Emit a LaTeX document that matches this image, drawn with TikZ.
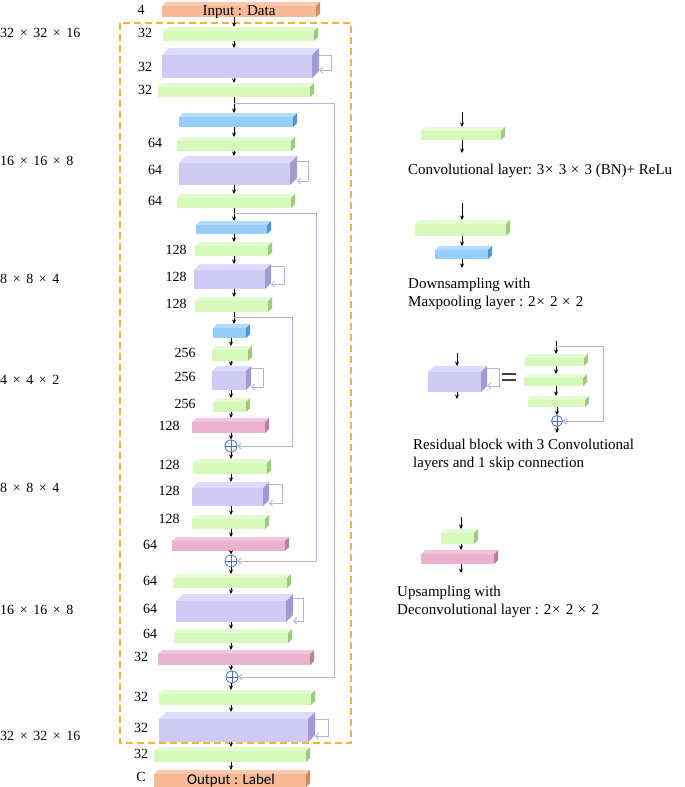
\documentclass[tikz,border=0pt]{standalone}
\usepackage{fontspec}
\setmainfont{Liberation Serif}
\newfontfamily\calib{Carlito}
\usetikzlibrary{arrows.meta}
\definecolor{gr}{RGB}{214,248,187}\definecolor{grT}{RGB}{228,252,210}\definecolor{grS}{RGB}{160,200,128}
\definecolor{pu}{RGB}{208,203,245}\definecolor{puT}{RGB}{222,218,251}\definecolor{puS}{RGB}{160,155,212}
\definecolor{bl}{RGB}{150,205,250}\definecolor{blT}{RGB}{178,220,252}\definecolor{blS}{RGB}{80,150,210}
\definecolor{pk}{RGB}{234,178,206}\definecolor{pkT}{RGB}{242,198,220}\definecolor{pkS}{RGB}{185,130,155}
\definecolor{or}{RGB}{248,186,150}\definecolor{orT}{RGB}{251,202,172}\definecolor{orS}{RGB}{205,140,100}
\definecolor{skipc}{RGB}{180,175,240}
\definecolor{dashc}{RGB}{245,182,55}
\definecolor{plusc}{RGB}{70,110,200}
\newcommand\mkbox[7]{%
  \fill[#6T] ({#2},{#3+#7}) -- ({#2+#7},{#3}) -- ({#4},{#3}) -- ({#4-#7},{#3+#7}) -- cycle;
  \fill[#6S] ({#4-#7},{#3+#7}) -- ({#4},{#3}) -- ({#4},{#5-#7}) -- ({#4-#7},{#5}) -- cycle;
  \fill[#6] ({#2},{#3+#7}) rectangle ({#4-#7},{#5});
  \node[inner sep=0pt,outer sep=0pt,minimum width={(#4-#2)*1pt},minimum height={(#5-#3)*1pt}] (#1) at ({(#2+#4)/2},{(#3+#5)/2}) {};}
\newcommand\lp[4]{\draw[skipline] ([yshift=-#3pt]#1.north east) -- ++(#2,0) |- ([yshift=#4pt]#1.south east);}
\tikzset{
  arr/.style={draw=black,line width=0.8pt,-{Stealth[length=4.5pt,width=4pt]}},
  skipline/.style={draw=skipc,line width=1pt,-{Straight Barb[length=3pt,width=6pt]}},
  oplus/.style={circle,draw=plusc,line width=0.8pt,minimum size=12pt,inner sep=0pt,
    path picture={\draw[plusc,line width=0.8pt] (path picture bounding box.north) -- (path picture bounding box.south)
      (path picture bounding box.west) -- (path picture bounding box.east);}},
  lbl/.style={font=\fontsize{14}{16}\selectfont,inner sep=0pt},
  legtxt/.style={font=\fontsize{15}{17.5}\selectfont,inner sep=0pt,anchor=west,align=left},
  frame/.style={draw=dashc,line width=1.3pt,dash pattern=on 7pt off 4pt}
}
\newcommand\X{\hspace{0.4em}×\hspace{0.4em}}
\newcommand\Y{\hspace{0.05em}×\hspace{0.35em}}
\begin{document}
\begin{tikzpicture}[x=1pt,y=-1pt]
\useasboundingbox (0,0) rectangle (685,787);
\draw[frame] (120,23) rectangle (351,743);
% main column
\mkbox{inp}{162}{2}{320}{17}{or}{4}
\mkbox{g1}{163}{27}{318}{41}{gr}{4}
\mkbox{p1}{162}{48}{319}{78}{pu}{7}
\mkbox{g2}{158}{83}{314}{97}{gr}{4}
\mkbox{b1}{179}{113}{297}{127}{bl}{4}
\mkbox{g3}{177}{137}{295}{151}{gr}{4}
\mkbox{p2}{179}{156}{297}{185}{pu}{7}
\mkbox{g4}{177}{194}{295}{208}{gr}{4}
\mkbox{b2}{196}{221}{271}{234}{bl}{4}
\mkbox{g5}{195}{242}{272}{256}{gr}{4}
\mkbox{p3}{194}{264}{271}{289}{pu}{6}
\mkbox{g6}{195}{297}{272}{312}{gr}{4}
\mkbox{b3}{213}{324}{250}{338}{bl}{4}
\mkbox{g7}{212}{346}{252}{361}{gr}{4}
\mkbox{p4}{212}{366}{251}{390}{pu}{5}
\mkbox{g8}{213}{398}{250}{412}{gr}{4}
\mkbox{k1}{192}{418}{269}{433}{pk}{4}
\node[oplus] (o1) at (231,446) {};
\mkbox{g9}{193}{459}{271}{474}{gr}{4}
\mkbox{p5}{192}{482}{269}{506}{pu}{6}
\mkbox{g10}{192}{515}{269}{529}{gr}{4}
\mkbox{k2}{172}{537}{289}{551}{pk}{4}
\node[oplus] (o2) at (231,561) {};
\mkbox{g11}{173}{574}{291}{588}{gr}{4}
\mkbox{p6}{176}{594}{293}{622}{pu}{7}
\mkbox{g12}{174}{629}{292}{643}{gr}{4}
\mkbox{k3}{158}{650}{314}{665}{pk}{4}
\node[oplus] (o3) at (232,677) {};
\mkbox{g13}{159}{690}{315}{705}{gr}{4}
\mkbox{p7}{159}{712}{315}{742}{pu}{7}
\mkbox{g14}{154}{747}{310}{762}{gr}{4}
\mkbox{out}{154}{770}{310}{787}{or}{4}
\node[font=\fontsize{15}{16}\selectfont,inner sep=0pt] (tin) at (239,12) {Input : Data};
\node[font=\calib\fontsize{15}{16}\selectfont,inner sep=0pt] (tout) at (231,780) {Output : Label};
% arrow columns
\coordinate (ca) at (234,0);
\coordinate (cb) at (231,0);
\foreach \a/\b in {inp/g1,g1/p1,p1/g2,g2/b1,b1/g3,g3/p2,p2/g4,g4/b2,b2/g5,g5/p3,p3/g6,g6/b3}
  \draw[arr] (\a.south -| ca) -- (\b.north -| ca);
\foreach \a/\b in {b3/g7,g7/p4,p4/g8,g8/k1,k1/o1,o1/g9,g9/p5,p5/g10,g10/k2,k2/o2,o2/g11,g11/p6,p6/g12,g12/k3,k3/o3,o3/g13,g13/p7,p7/g14,g14/out}
  \draw[arr] (\a.south -| cb) -- (\b.north -| cb);
% skips
\coordinate (s1) at (234,103);
\coordinate (s2) at (234,213);
\coordinate (s3) at (234,317);
\draw[skipline] (s1) -- ++(100,0) |- (o3.east);
\draw[skipline] (s2) -- ++(82,0) |- (o2.east);
\draw[skipline] (s3) -- ++(58,0) |- (o1.east);
% loops
\lp{p1}{12}{7}{8}
\lp{p2}{11}{5}{4}
\lp{p3}{13}{2}{5}
\lp{p4}{12}{2}{3}
\lp{p5}{13}{2}{3}
\lp{p6}{10}{4}{1}
\lp{p7}{13}{7}{6}
% channel labels
\foreach \x/\y/\t in {141/10/4,145/33/32,145/67/32,145/90/32,155/143/64,155/170/64,155/201/64,
  176/250/128,176/277/128,176/304/128,185/353/256,185/377/256,185/404/256,169/426/128,
  169/465/128,169/491/128,169/519/128,150/545/64,150/581/64,150/609/64,150/634/64,
  141/657/32,141/697/32,141/728/32,141/754/32,141/777/C}
  \node[lbl] at (\x,\y) {\t};
% size labels
\foreach \y/\t in {33/32\X32\X16,161/16\X16\X8,279/8\X8\X4,380/4\X4\X2,488/8\X8\X4,610/16\X16\X8,736/32\X32\X16}
  \node[lbl,anchor=west] at (0,\y) {\t};
% legend 1
\mkbox{lg1}{421}{127}{505}{140}{gr}{4}
\coordinate (l1a) at (462,112);
\coordinate (l1b) at (462,153);
\draw[arr] (l1a) -- (lg1.north -| l1a);
\draw[arr] (lg1.south -| l1a) -- (l1b);
\node[legtxt] at (408,171) {Convolutional layer: 3\Y3 \Y3 (BN)+ ReLu};
% legend 2
\mkbox{lg2}{415}{220}{510}{236}{gr}{4}
\mkbox{lb2}{435}{246}{492}{259}{bl}{4}
\coordinate (l2a) at (462,203);
\coordinate (l2b) at (462,268);
\draw[arr] (l2a) -- (lg2.north -| l2a);
\draw[arr] (lg2.south -| l2a) -- (lb2.north -| l2a);
\draw[arr] (lb2.south -| l2a) -- (l2b);
\node[legtxt] at (408,294) {Downsampling with\\Maxpooling layer : 2\Y2 \Y2};
% legend 3
\mkbox{lp3}{428}{366}{487}{392}{pu}{6}
\coordinate (l3a) at (457,353);
\coordinate (l3b) at (457,399);
\draw[arr] (l3a) -- (lp3.north -| l3a);
\draw[arr] (lp3.south -| l3a) -- (l3b);
\lp{lp3}{12}{2}{6}
\node[font=\fontsize{30}{30}\selectfont,inner sep=0pt] (eq) at (509,381) {=};
\mkbox{lg3a}{525}{354}{588}{366}{gr}{4}
\mkbox{lg3b}{524}{374}{587}{386}{gr}{4}
\mkbox{lg3c}{528}{396}{589}{407}{gr}{4}
\node[oplus,minimum size=11pt] (lo) at (557,421) {};
\coordinate (l3c) at (556,341);
\coordinate (l3s) at (556,346);
\coordinate (l3d) at (557,433);
\draw[arr] (l3c) -- (lg3a.north -| l3c);
\draw[arr] (lg3a.south -| l3c) -- (lg3b.north -| l3c);
\draw[arr] (lg3b.south -| l3c) -- (lg3c.north -| l3c);
\draw[arr] (lg3c.south -| lo) -- (lo.north);
\draw[arr] (lo.south) -- (l3d);
\draw[skipline] (l3s) -- ++(47,0) |- (lo.east);
\node[legtxt] at (413,455) {Residual block with 3 Convolutional\\layers and 1 skip connection};
% legend 4
\mkbox{lg4}{441}{529}{478}{544}{gr}{4}
\mkbox{lk4}{421}{550}{498}{564}{pk}{4}
\coordinate (l4a) at (461,517);
\coordinate (l4b) at (461,573);
\draw[arr] (l4a) -- (lg4.north -| l4a);
\draw[arr] (lg4.south -| l4a) -- (lk4.north -| l4a);
\draw[arr] (lk4.south -| l4a) -- (l4b);
\node[legtxt] at (397,602) {Upsampling with\\Deconvolutional layer : 2\Y2 \Y2};
\end{tikzpicture}
\end{document}
